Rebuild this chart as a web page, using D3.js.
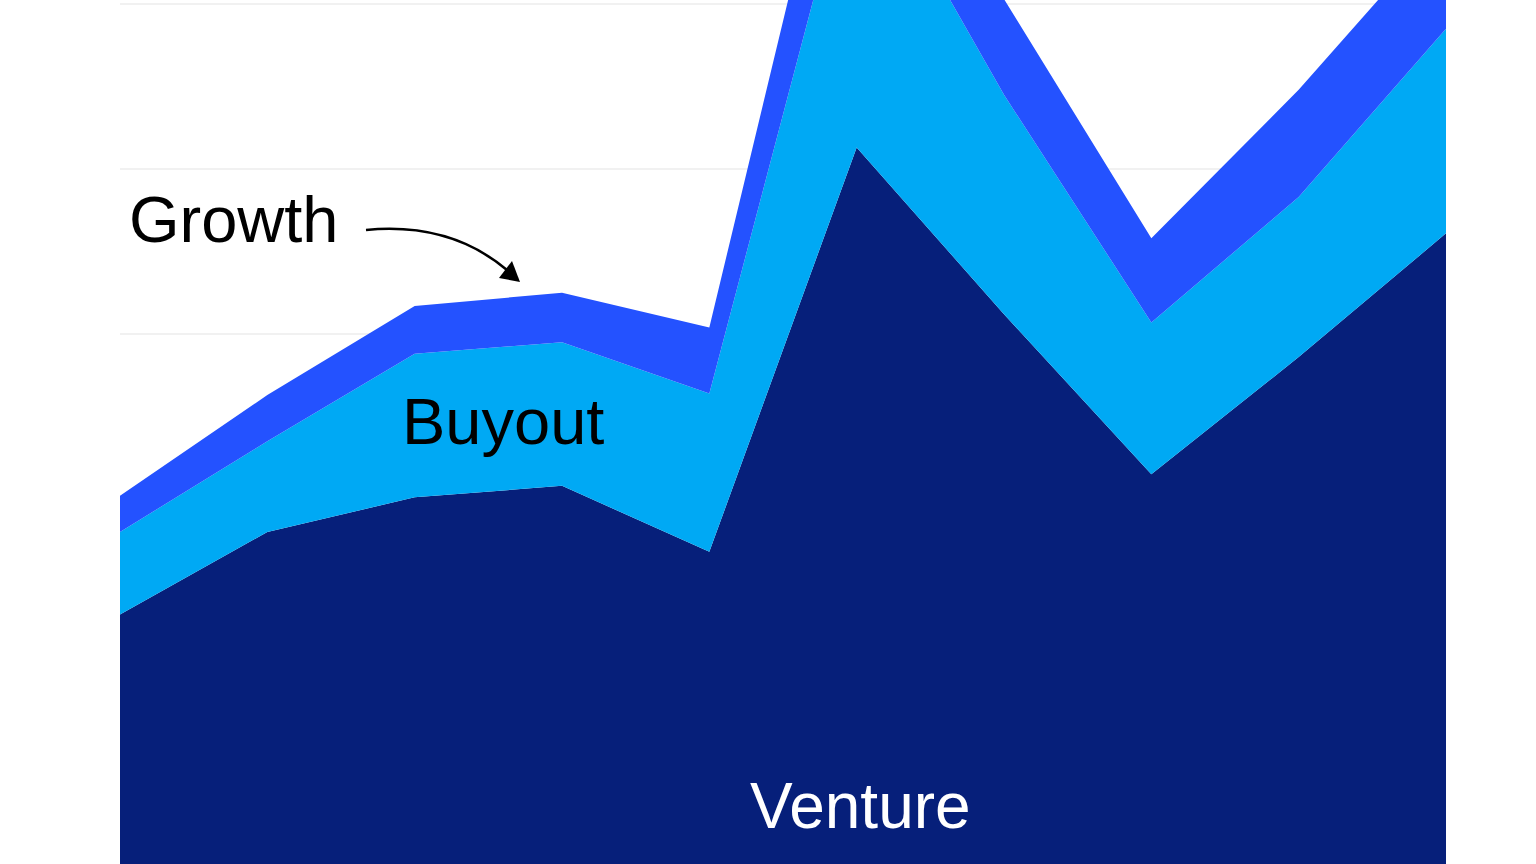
<!DOCTYPE html>
<html>
<head>
<meta charset="utf-8">
<script src="https://cdn.jsdelivr.net/npm/d3@7"></script>
<style>
  html, body { margin: 0; padding: 0; background: #ffffff; overflow: hidden; }
  svg { display: block; }
</style>
</head>
<body>
<svg id="chart" width="1536" height="864"></svg>
<script>
// ---- Data ----
const categories = ["2012", "2013", "2014", "2015", "2016", "2017", "2018", "2019", "2020", "2021"];
const venture = [23.0, 28.0, 30.1, 30.8, 26.8, 51.3, 41.2, 31.5, 38.6, 46.1];
const buyout  = [5.0, 5.5, 8.7, 8.7, 9.6, 18.9, 13.3, 9.2, 9.7, 12.4];
const growth  = [2.2, 2.8, 2.9, 3.0, 4.0, 7.3, 5.8, 5.1, 6.5, 6.4];
const seriesNames = ["Venture", "Buyout", "Growth"];
const gridTicks = [10, 20, 30, 40, 50, 60];

const colors = { Venture: "#061F7A", Buyout: "#00A9F4", Growth: "#2452FF" };

const rows = categories.map((c, i) => ({
  cat: c, Venture: venture[i], Buyout: buyout[i], Growth: growth[i]
}));

const svg = d3.select("#chart");
const x = d3.scalePoint().domain(categories).range([120, 1446]);
const y = d3.scaleLinear().domain([0, 60]).range([994, 4]);

// gridlines
svg.append("g").selectAll("line").data(gridTicks).join("line")
  .attr("x1", 120).attr("x2", 1446)
  .attr("y1", d => y(d)).attr("y2", d => y(d))
  .attr("stroke", "#e3e3e3").attr("stroke-width", 1);

const stacked = d3.stack().keys(seriesNames)(rows);
const area = d3.area()
  .x(d => x(d.data.cat))
  .y0(d => y(d[0]))
  .y1(d => y(d[1]));

svg.append("g").selectAll("path").data(stacked).join("path")
  .attr("d", area)
  .attr("fill", d => colors[d.key]);

// labels
const font = "Liberation Sans, Arial, sans-serif";
svg.append("text").attr("x", 129).attr("y", 242)
  .attr("font-family", font).attr("font-size", 65).attr("fill", "#000").text("Growth");
svg.append("text").attr("x", 402).attr("y", 444)
  .attr("font-family", font).attr("font-size", 65).attr("fill", "#000").text("Buyout");
svg.append("text").attr("x", 750).attr("y", 828)
  .attr("font-family", font).attr("font-size", 64).attr("fill", "#fff").text("Venture");

// annotation arrow
svg.append("path")
  .attr("d", "M366,230 Q450,222 507,270")
  .attr("fill", "none").attr("stroke", "#000").attr("stroke-width", 2.5);
svg.append("path")
  .attr("d", "M520,282 L499,278 L512,261 Z")
  .attr("fill", "#000");
</script>
</body>
</html>
